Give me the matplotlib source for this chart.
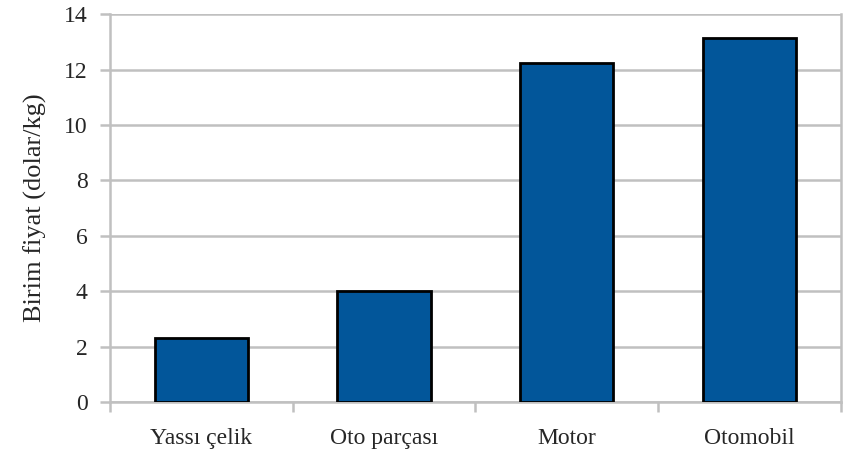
import numpy as np
import matplotlib
matplotlib.use("Agg")
from matplotlib import pyplot as plt

# dati
kategoriler = ["Yassı çelik", "Oto parçası", "Motor", "Otomobil"]
fiyatlar = [2.32, 4.02, 12.25, 13.15]
y_ticks = [0, 2, 4, 6, 8, 10, 12, 14]

plt.rcParams['font.family'] = ['Liberation Serif', 'DejaVu Serif']
grigio = '#c0c0c0'
testo = '#262626'

fig = plt.figure(figsize=(8.52, 4.55), dpi=100)
ax = fig.add_axes([0.129, 0.1165, 0.858, 0.8525])

x = np.arange(len(kategoriler))
ax.bar(x, fiyatlar, width=0.51, color='#02569a', edgecolor='black', linewidth=2.0, zorder=3)

ax.set_xlim(-0.5, len(kategoriler) - 0.5)
ax.set_ylim(0, 14)
ax.set_yticks(y_ticks)
ax.yaxis.grid(True, color=grigio, linewidth=1.8, zorder=0)

# tick maggiori al centro (solo etichette), minori ai confini delle categorie
ax.set_xticks(x)
ax.set_xticklabels(kategoriler, fontsize=17, color=testo)
ax.set_xticks(np.arange(-0.5, len(kategoriler)), minor=True)
ax.tick_params(axis='x', which='major', length=0, pad=19)
ax.tick_params(axis='x', which='minor', length=7, width=1.8, color=grigio, direction='out')
ax.tick_params(axis='y', length=7, width=1.8, color=grigio, labelsize=17, labelcolor=testo, pad=9)

for s in ax.spines.values():
    s.set_color(grigio)
    s.set_linewidth(1.8)
ax.spines['top'].set_visible(False)

ax.set_ylabel("Birim fiyat (dolar/kg)", fontsize=19, color=testo, labelpad=12)

fig.savefig("out.png", dpi=100)
